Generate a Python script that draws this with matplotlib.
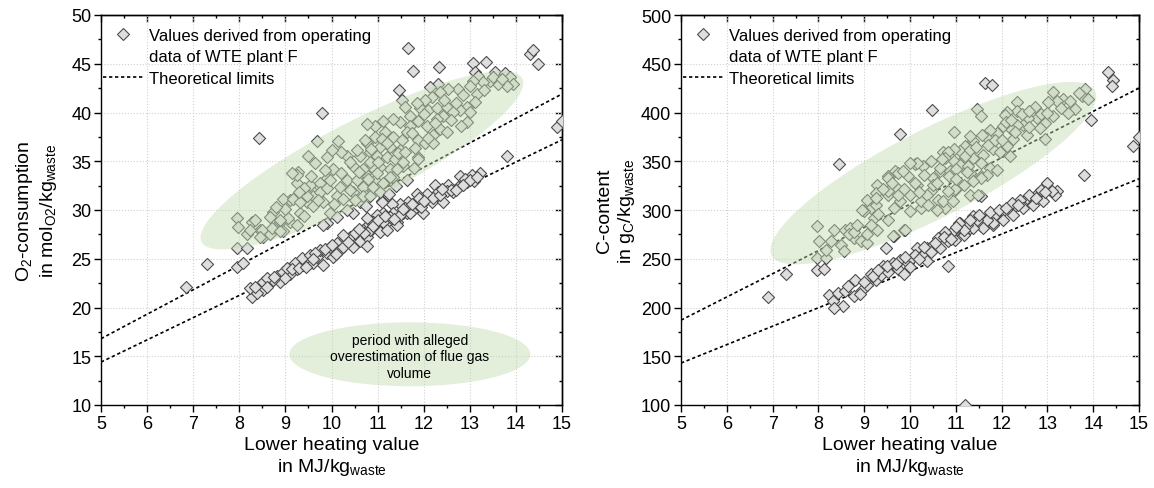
# Import libraries
import matplotlib
matplotlib.use('Agg')
import matplotlib.pyplot as plt
import matplotlib.transforms as mtransforms
from matplotlib.patches import Ellipse
from matplotlib.lines import Line2D
from matplotlib.ticker import MultipleLocator

# ---------------- data: O2 consumption (left panel) ----------------
o2_upper = [
    (9.69, 37.1), (10.14, 37.1), (9.49, 35.5), (9.64, 34.8), (9.27, 33.9), (9.25, 32.8), (9.10, 31.0),
    (8.73, 29.8), (7.95, 29.2), (7.97, 28.3), (8.28, 28.8), (8.45, 28.0), (8.17, 27.5), (8.67, 29.3),
    (8.88, 28.8), (8.95, 27.8), (9.10, 28.8), (9.25, 28.5), (8.51, 27.2), (8.67, 27.5), (7.95, 26.1),
    (8.17, 26.1), (9.90, 35.4), (9.90, 33.3), (10.03, 34.2), (9.75, 32.4), (9.60, 31.4), (9.47, 30.8),
    (9.32, 29.7), (10.12, 31.4), (10.34, 33.1), (10.47, 34.5), (10.62, 35.5), (10.77, 36.9), (10.34, 35.5),
    (10.18, 32.4), (10.47, 31.8), (10.68, 32.8), (10.62, 30.8), (10.47, 29.7), (9.97, 29.7), (9.90, 28.7),
    (11.46, 42.3), (11.53, 41.3), (13.11, 44.2), (13.18, 43.7), (13.55, 44.2), (13.76, 44.1), (13.87, 43.6),
    (13.94, 42.9), (13.81, 42.7), (13.61, 42.9), (13.44, 43.2), (13.29, 43.1), (13.07, 43.2), (13.00, 42.7),
    (13.16, 41.9), (13.11, 41.1), (12.94, 40.6), (12.79, 40.3), (12.94, 39.0), (12.74, 42.4), (12.53, 42.4),
    (12.31, 42.9), (12.14, 42.6), (12.35, 42.1), (12.18, 41.6), (12.03, 41.3), (11.92, 40.5), (12.09, 40.3),
    (12.29, 40.5), (12.51, 40.6), (12.64, 40.1), (12.42, 39.6), (12.29, 39.3), (12.35, 38.3), (12.20, 37.7),
    (12.07, 38.6), (11.88, 39.1), (11.70, 39.6), (11.70, 38.6), (11.64, 38.0), (11.49, 39.0), (11.33, 39.3),
    (11.12, 39.1), (10.95, 38.6), (10.77, 38.8), (10.73, 37.2), (10.95, 37.5), (11.16, 38.0), (11.33, 37.5),
    (11.53, 37.2), (11.49, 36.2), (11.27, 36.5), (11.05, 36.5), (10.84, 35.9), (10.99, 35.5), (11.20, 35.4),
    (11.38, 35.2), (11.55, 34.5), (11.88, 35.4), (11.27, 34.2), (11.05, 34.4), (10.88, 34.4), (10.73, 33.8),
    (10.95, 33.1), (11.16, 32.9), (11.33, 33.4), (10.68, 32.4), (10.90, 31.9), (10.68, 31.4), (11.88, 37.2),
    (12.03, 36.9), (12.20, 36.9), (11.81, 36.4), (11.59, 40.6), (11.85, 41.0), (8.34, 29.0), (8.23, 28.0),
    (8.49, 28.0), (8.45, 27.2), (8.71, 28.2), (8.88, 27.8), (8.95, 31.1), (9.16, 31.1), (9.32, 30.8),
    (9.47, 31.4), (9.53, 32.6), (9.25, 33.6), (9.14, 33.8), (9.75, 32.8), (9.75, 31.8), (9.90, 32.3),
    (9.97, 33.1), (9.60, 30.4), (9.82, 30.8), (9.82, 28.5), (10.12, 29.3), (10.25, 31.1), (10.40, 32.1),
    (10.55, 33.1), (10.34, 30.0), (10.84, 31.4), (10.90, 32.4), (11.05, 31.8), (11.12, 32.8), (11.27, 33.4),
    (11.42, 34.2), (10.68, 34.2), (10.84, 34.9), (10.99, 33.8), (11.55, 34.9), (11.64, 33.1), (11.88, 35.2),
    (9.06, 29.2), (8.88, 29.0), (10.20, 33.8), (10.40, 34.9), (10.55, 36.2), (10.60, 33.9), (10.80, 33.2),
    (10.85, 36.3), (11.00, 34.9), (11.10, 37.3), (11.20, 36.9), (11.25, 31.6), (11.40, 32.5), (11.45, 35.8),
    (11.60, 36.0), (11.75, 37.9), (11.80, 34.3), (12.00, 39.8), (12.10, 37.4), (12.25, 38.9), (12.45, 41.3),
    (12.60, 39.2), (12.70, 41.0), (12.85, 41.8), (13.00, 40.1), (13.30, 42.3), (13.50, 43.6), (13.70, 43.4),
    (9.40, 32.3), (9.55, 33.5), (9.70, 31.0), (9.85, 34.1), (10.05, 30.6), (10.20, 35.9), (10.50, 31.0),
    (10.00, 36.2), (9.30, 31.8), (9.00, 30.1), (8.80, 30.3), (9.40, 29.4), (10.75, 30.4), (12.50, 38.0),
    (12.80, 38.6),
]
o2_lower = [
    (13.22, 33.8), (13.05, 33.6), (12.79, 33.5), (12.94, 32.9), (12.74, 32.4), (12.53, 32.6), (12.51, 31.9),
    (12.25, 32.6), (12.31, 31.8), (12.07, 31.6), (12.18, 30.8), (11.92, 30.9), (11.85, 31.6), (11.66, 30.8),
    (11.77, 30.0), (11.49, 30.6), (11.55, 29.7), (11.31, 30.6), (11.33, 29.7), (11.10, 30.9), (11.12, 29.7),
    (11.20, 28.8), (10.99, 29.5), (10.90, 28.8), (10.77, 29.2), (10.73, 28.2), (10.84, 27.8), (11.42, 28.8),
    (11.64, 29.7), (11.99, 29.7), (12.42, 30.8), (12.64, 31.8), (8.28, 21.1), (8.23, 22.0), (8.45, 22.3),
    (8.51, 21.8), (8.38, 21.5), (8.67, 22.5), (8.82, 23.2), (8.88, 22.6), (8.73, 22.8), (8.95, 23.6),
    (9.10, 23.4), (9.03, 24.1), (9.25, 23.9), (9.21, 24.6), (9.38, 24.4), (9.47, 24.9), (9.36, 25.1),
    (9.60, 24.6), (9.53, 25.4), (9.69, 25.2), (9.82, 24.4), (9.75, 25.9), (9.90, 25.6), (9.97, 26.2),
    (10.03, 25.2), (10.12, 26.6), (10.18, 25.9), (10.29, 27.0), (10.25, 26.2), (10.40, 27.2), (10.47, 26.2),
    (10.55, 27.5), (10.62, 26.8), (10.68, 28.0), (10.77, 27.2), (10.84, 28.0), (10.99, 28.3), (11.05, 27.7),
    (11.12, 28.8), (11.20, 28.0), (11.27, 29.3), (11.42, 28.5), (11.49, 29.5), (11.10, 30.8), (11.70, 29.7),
    (11.85, 30.6), (8.51, 22.6), (8.60, 23.0), (8.34, 22.1), (12.90, 33.2), (13.10, 33.0), (12.60, 32.1),
    (12.20, 31.2), (11.95, 30.3), (11.60, 30.2), (10.78, 26.3), (9.00, 23.0), (9.15, 24.0), (9.30, 24.1),
    (9.45, 24.2), (9.65, 25.6), (9.85, 26.0), (10.00, 26.4), (10.10, 25.5), (10.35, 26.7), (10.50, 27.6),
    (10.70, 27.6), (10.90, 28.4), (11.00, 29.0), (11.15, 29.4), (11.35, 29.1), (11.55, 30.1), (11.75, 30.6),
    (11.90, 31.2), (12.00, 30.9), (12.35, 31.5), (12.40, 32.2), (12.70, 32.1), (12.85, 32.6), (13.00, 33.1),
    (13.15, 33.4), (8.60, 22.1), (8.75, 23.1), (9.60, 25.0), (10.25, 27.4), (10.60, 28.1),
]
o2_outliers = [
    (6.85, 22.1), (7.30, 24.5), (7.95, 24.2), (8.08, 24.6), (8.43, 37.4), (9.79, 40.0), (11.66, 46.6),
    (11.77, 44.3), (12.33, 44.7), (13.07, 45.1), (13.35, 45.2), (14.30, 46.0), (14.37, 46.4), (14.47, 45.0),
    (14.89, 38.5), (15.00, 39.1), (13.81, 35.5),
]
o2_limit_x = [5, 15]
o2_limit_hi = [16.8, 41.9]
o2_limit_lo = [14.4, 37.2]

# ---------------- data: C content (right panel) ----------------
c_upper = [
    (8.01, 268), (8.33, 279), (8.27, 268), (8.49, 264), (8.59, 279), (8.77, 271), (8.92, 268), (9.07, 266),
    (8.70, 282), (9.14, 302), (8.99, 299), (9.25, 305), (9.21, 292), (9.29, 326), (9.25, 317), (9.51, 315),
    (9.68, 340), (9.51, 335), (9.73, 322), (9.79, 309), (9.64, 302), (9.51, 290), (9.95, 335), (10.12, 347),
    (10.29, 345), (10.16, 326), (10.01, 315), (10.01, 299), (10.23, 302), (10.45, 319), (10.51, 333),
    (10.66, 340), (10.73, 360), (10.62, 310), (10.77, 302), (9.86, 279), (9.64, 273), (8.55, 258),
    (8.16, 259), (7.98, 284), (8.66, 275), (8.77, 277), (8.96, 300), (9.07, 310), (9.25, 312), (9.51, 333),
    (9.73, 338), (9.53, 319), (9.73, 315), (9.86, 322), (10.16, 348), (10.12, 328), (10.23, 309),
    (10.38, 315), (10.51, 326), (10.60, 300), (10.73, 309), (10.95, 319), (11.10, 326), (10.66, 343),
    (10.88, 340), (11.10, 348), (11.32, 338), (11.54, 335), (11.75, 343), (9.07, 275), (9.29, 279),
    (9.62, 273), (9.90, 280), (13.82, 424), (13.76, 417), (13.89, 414), (13.61, 404), (13.45, 400),
    (13.34, 414), (13.13, 421), (13.21, 412), (13.02, 411), (13.13, 396), (12.95, 389), (12.95, 373),
    (12.73, 406), (12.78, 394), (12.58, 394), (12.47, 387), (12.34, 411), (12.34, 402), (12.12, 401),
    (12.08, 397), (12.34, 387), (12.19, 384), (12.02, 386), (11.91, 379), (11.75, 382), (11.69, 374),
    (11.58, 377), (11.38, 371), (11.32, 376), (11.21, 366), (11.10, 361), (10.95, 363), (10.82, 360),
    (10.77, 353), (10.95, 350), (11.10, 346), (11.27, 345), (11.38, 353), (11.60, 356), (11.82, 363),
    (11.97, 360), (12.12, 366), (12.25, 373), (12.56, 377), (12.84, 384), (11.91, 341), (11.69, 336),
    (11.54, 333), (11.38, 330), (11.17, 326), (10.99, 322), (10.82, 319), (10.93, 309), (11.32, 315),
    (11.49, 315), (12.19, 355), (11.47, 404), (11.54, 396), (10.95, 380), (10.30, 336), (10.45, 350),
    (10.60, 328), (10.70, 352), (10.85, 335), (11.00, 342), (11.20, 355), (11.30, 362), (11.45, 365),
    (11.55, 348), (11.70, 367), (11.85, 372), (12.00, 372), (12.10, 390), (12.30, 380), (12.45, 398),
    (12.60, 402), (12.85, 398), (13.00, 400), (13.30, 405), (13.50, 412), (13.70, 420), (9.40, 322),
    (9.60, 328), (9.85, 340), (10.00, 348), (10.20, 318), (10.40, 305), (9.30, 296), (9.15, 285),
    (8.85, 285), (11.00, 332), (11.25, 339), (12.60, 385), (12.20, 392),
]
c_lower = [
    (8.23, 213), (8.31, 207), (8.53, 202), (8.33, 200), (8.42, 215), (8.59, 217), (8.77, 212), (8.81, 228),
    (8.96, 218), (9.07, 223), (9.14, 234), (9.25, 228), (9.36, 233), (9.42, 243), (9.53, 236), (9.62, 246),
    (9.73, 239), (9.79, 249), (9.86, 234), (9.95, 246), (10.05, 251), (10.16, 261), (10.12, 254),
    (10.29, 254), (10.38, 248), (10.38, 261), (10.51, 264), (10.62, 271), (10.66, 261), (10.82, 243),
    (10.82, 268), (10.95, 277), (10.99, 269), (11.10, 287), (11.17, 274), (11.32, 282), (11.38, 294),
    (11.54, 284), (11.69, 292), (11.82, 285), (13.21, 319), (13.17, 315), (13.00, 328), (12.91, 309),
    (12.80, 317), (12.69, 305), (12.56, 312), (12.41, 310), (12.47, 302), (12.30, 304), (12.23, 307),
    (12.25, 295), (12.04, 299), (12.04, 290), (11.86, 295), (11.82, 287), (11.69, 290), (11.60, 282),
    (11.47, 290), (11.38, 282), (11.25, 285), (11.17, 279), (11.06, 287), (10.95, 279), (10.77, 277),
    (12.85, 321), (13.10, 320), (9.00, 226), (9.20, 232), (9.30, 238), (9.50, 243), (9.70, 245),
    (9.90, 252), (10.00, 242), (10.20, 250), (10.45, 257), (10.55, 266), (10.75, 272), (10.90, 270),
    (11.00, 283), (11.30, 290), (11.50, 295), (11.75, 298), (11.95, 300), (12.10, 302), (12.35, 305),
    (12.60, 315), (12.75, 312), (12.95, 318), (8.65, 222), (8.90, 214), (10.30, 262),
]
c_outliers = [
    (6.90, 211), (7.29, 234), (7.98, 251), (8.16, 251), (7.98, 238), (8.12, 239), (8.44, 347), (9.79, 378),
    (10.49, 403), (11.64, 430), (11.80, 428), (14.32, 442), (14.43, 433), (14.41, 427), (13.95, 392),
    (14.87, 366), (15.00, 375), (13.80, 336), (11.20, 100), (9.47, 261), (11.54, 314),
]
c_limit_x = [5, 15]
c_limit_hi = [187, 425]
c_limit_lo = [143, 332]

legend_labels = ['Values derived from operating', 'data of WTE plant F', 'Theoretical limits']

# Global style
plt.rcParams['font.family'] = ['Liberation Sans', 'DejaVu Sans']
plt.rcParams['mathtext.default'] = 'regular'
plt.rcParams['axes.linewidth'] = 1.0

GREEN = '#c2dbb0'
FACE = '#dedede'
EDGE = '#4d4d4d'


def set_ticks(ax, xlim, ylim, ymajor, yminor):
    ax.set_xlim(xlim)
    ax.set_ylim(ylim)
    ax.xaxis.set_major_locator(MultipleLocator(1))
    ax.xaxis.set_minor_locator(MultipleLocator(0.5))
    ax.yaxis.set_major_locator(MultipleLocator(ymajor))
    ax.yaxis.set_minor_locator(MultipleLocator(yminor))
    ax.tick_params(which='major', direction='out', length=5, width=1, labelsize=13, pad=2)
    ax.tick_params(which='minor', direction='out', length=2.5, width=1)
    ax.grid(which='major', linestyle=':', color='#d0d0d0', linewidth=0.8)
    ax.set_axisbelow(True)

    # mirrored ticks pointing inwards on top and right
    top = ax.secondary_xaxis('top')
    top.xaxis.set_major_locator(MultipleLocator(1))
    top.xaxis.set_minor_locator(MultipleLocator(0.5))
    top.tick_params(which='major', direction='in', length=5, width=1, labeltop=False)
    top.tick_params(which='minor', direction='in', length=2.5, width=1)
    right = ax.secondary_yaxis('right')
    right.yaxis.set_major_locator(MultipleLocator(ymajor))
    right.yaxis.set_minor_locator(MultipleLocator(yminor))
    right.tick_params(which='major', direction='in', length=5, width=1, labelright=False)
    right.tick_params(which='minor', direction='in', length=2.5, width=1)


def add_ellipse(ax, center, w_px, h_px, angle):
    # ellipse sized in pixels so that the tilt is not distorted by the axis scales
    cx, cy = ax.transData.transform(center)
    e = Ellipse((cx, cy), w_px, h_px, angle=angle, transform=mtransforms.IdentityTransform(),
                facecolor=GREEN, edgecolor='none', alpha=0.45, zorder=4)
    ax.add_patch(e)


def plot_panel(ax, groups, lim_x, lim_hi, lim_lo):
    for pts in groups:
        xs = [p[0] for p in pts]
        ys = [p[1] for p in pts]
        ax.scatter(xs, ys, marker='D', s=38, facecolor=FACE, edgecolor=EDGE, linewidth=0.8, zorder=3)
    ax.plot(lim_x, lim_hi, color='black', linestyle=(0, (2, 1.6)), linewidth=1.2, zorder=2)
    ax.plot(lim_x, lim_lo, color='black', linestyle=(0, (2, 1.6)), linewidth=1.2, zorder=2)


def add_legend(ax):
    # the marker sits on the first line of the two-line label, so split it in two rows
    handles = [
        Line2D([], [], marker='D', linestyle='none', markersize=6, markerfacecolor=FACE,
               markeredgecolor=EDGE, markeredgewidth=0.8),
        Line2D([], [], linestyle='none'),
        Line2D([], [], color='black', linestyle=(0, (2, 1.6)), linewidth=1.2),
    ]
    leg = ax.legend(handles, legend_labels, loc='upper left', bbox_to_anchor=(-0.01, 0.985),
                    frameon=False, fontsize=12, borderaxespad=0, borderpad=0.4,
                    handlelength=2.4, handletextpad=0.35, labelspacing=0.4)
    leg.set_zorder(6)


fig = plt.figure(figsize=(11.54, 4.89), dpi=100)
W, H = 1154, 489
ax1 = fig.add_axes([101 / W, 1 - 406 / H, 461 / W, 390 / H])
ax2 = fig.add_axes([681 / W, 1 - 406 / H, 458 / W, 390 / H])

# Left panel
set_ticks(ax1, (5, 15), (10, 50), 5, 2.5)
plot_panel(ax1, [o2_lower, o2_outliers, o2_upper], o2_limit_x, o2_limit_hi, o2_limit_lo)
add_ellipse(ax1, (10.66, 35.1), 360, 80, 27)
add_ellipse(ax1, (11.70, 15.2), 241, 64, 0)
ax1.text(11.70, 15.0, 'period with alleged\noverestimation of flue gas\nvolume', ha='center',
         va='center', fontsize=10, linespacing=1.25, zorder=5)
ax1.set_xlabel('Lower heating value\nin MJ/kg$_{waste}$', fontsize=14, labelpad=3)
ax1.set_ylabel('O$_2$-consumption\nin mol$_{O2}$/kg$_{waste}$', fontsize=14, labelpad=9)
add_legend(ax1)

# Right panel
set_ticks(ax2, (5, 15), (100, 500), 50, 25)
plot_panel(ax2, [c_lower, c_outliers, c_upper], c_limit_x, c_limit_hi, c_limit_lo)
add_ellipse(ax2, (10.51, 337.8), 363, 88, 27)
ax2.set_xlabel('Lower heating value\nin MJ/kg$_{waste}$', fontsize=14, labelpad=3)
ax2.set_ylabel('C-content\nin g$_C$/kg$_{waste}$', fontsize=14, labelpad=3)
add_legend(ax2)

fig.savefig('out.png', dpi=100)
